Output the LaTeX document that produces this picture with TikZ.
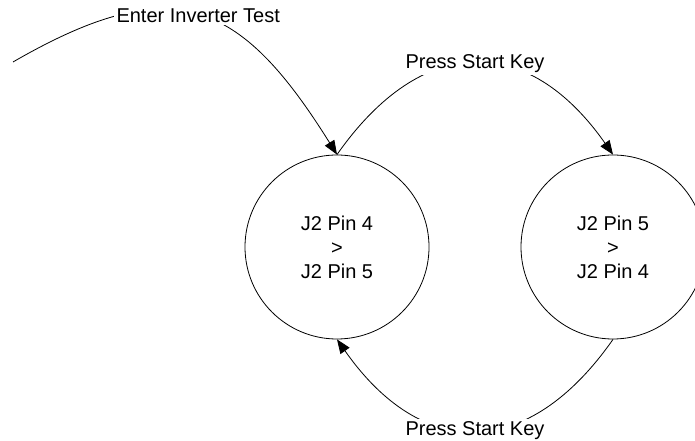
\documentclass[tikz,border=0pt]{standalone}
\usepackage{fontspec}
\setmainfont{Liberation Sans}
\usetikzlibrary{arrows.meta}

\begin{document}
\begin{tikzpicture}[x=1pt, y=1pt, line width=0.8pt,
    >={Triangle[length=14pt, width=11pt]},
    state/.style={circle, draw, minimum size=184pt, inner sep=0pt,
                  align=center, font=\fontsize{20}{24}\selectfont},
    lbl/.style={fill=white, inner sep=3pt, font=\fontsize{20}{24}\selectfont}]
      \useasboundingbox (0,0) rectangle (695,441);
      % States: pin pairs
      \foreach \i/\x/\a/\b in {1/337/4/5, 2/613/5/4}{
        \node[state] (s\i) at (\x,194) {J2 Pin \a\\>\\J2 Pin \b};
      }
      % Entry transition
      \coordinate (entry) at (13,379);
      \draw[->] (entry) to[out=30, in=122, looseness=1.4]
        node[lbl] {Enter Inverter Test} (s1.north);
      % Toggle transitions
      \draw[->] (s1.north) to[out=55, in=125, looseness=1.38]
        node[lbl] {Press Start Key} (s2.north);
      \draw[->] (s2.south) to[out=-125, in=-55, looseness=1.38]
        node[lbl] {Press Start Key} (s1.south);
    \end{tikzpicture}
\end{document}
